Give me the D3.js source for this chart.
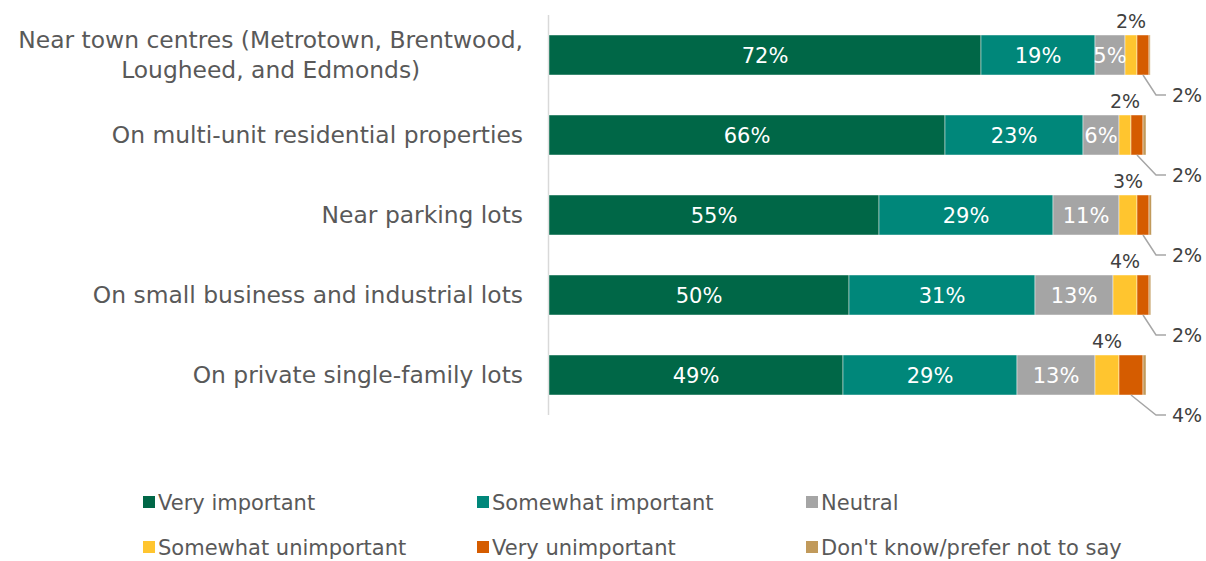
<!DOCTYPE html>
<html>
<head>
<meta charset="utf-8">
<script src="https://cdn.jsdelivr.net/npm/d3@7"></script>
<style>
  html, body { margin: 0; padding: 0; background: #fff; }
  svg { display: block; font-family: "DejaVu Sans", sans-serif; }
</style>
</head>
<body>
<svg id="chart" width="1206" height="561"></svg>
<script>
// Survey categories (top to bottom)
const categories = [
  ["Near town centres (Metrotown, Brentwood,", "Lougheed, and Edmonds)"],
  ["On multi-unit residential properties"],
  ["Near parking lots"],
  ["On small business and industrial lots"],
  ["On private single-family lots"]
];

const seriesNames = [
  "Very important",
  "Somewhat important",
  "Neutral",
  "Somewhat unimportant",
  "Very unimportant",
  "Don't know/prefer not to say"
];

// Percent of respondents per category, one array per response
const veryImportant       = [72, 66, 55, 50, 49];
const somewhatImportant   = [19, 23, 29, 31, 29];
const neutral             = [5, 6, 11, 13, 13];
const somewhatUnimportant = [2, 2, 3, 4, 4];
const veryUnimportant     = [2, 2, 2, 2, 4];
const dontKnow            = [0.2, 0.5, 0.4, 0.3, 0.5];

const colors = ["#006747", "#00877a", "#a5a5a5", "#ffc52f", "#d55c00", "#c19a5b"];

const seriesValues = [veryImportant, somewhatImportant, neutral, somewhatUnimportant, veryUnimportant, dontKnow];

const rows = categories.map((c, i) => {
  const r = { key: i };
  seriesNames.forEach((s, j) => { r[s] = seriesValues[j][i]; });
  return r;
});

const svg = d3.select("#chart");

const x = d3.scaleLinear().domain([0, 100]).range([549, 1149]);
const y = d3.scaleBand().domain(d3.range(categories.length)).range([15, 415]).paddingInner(0.5).paddingOuter(0.25);

const stack = d3.stack().keys(seriesNames);
const layers = stack(rows);

// vertical category axis line
svg.append("line")
  .attr("x1", 548.5).attr("x2", 548.5)
  .attr("y1", 15).attr("y2", 415)
  .attr("stroke", "#d9d9d9").attr("stroke-width", 1.5);

// stacked segments
const g = svg.append("g");
layers.forEach((layer, li) => {
  g.selectAll(null)
    .data(layer)
    .enter().append("rect")
    .attr("x", d => x(d[0]))
    .attr("y", (d, i) => y(i))
    .attr("width", d => Math.max(0, x(d[1]) - x(d[0])))
    .attr("height", y.bandwidth())
    .attr("fill", colors[li])
    .attr("stroke", "#ffffff")
    .attr("stroke-opacity", 0.6)
    .attr("stroke-width", 0.75);
});

// in-bar labels for the first three series
layers.slice(0, 3).forEach(layer => {
  g.selectAll(null)
    .data(layer)
    .enter().append("text")
    .attr("x", d => (x(d[0]) + x(d[1])) / 2)
    .attr("y", (d, i) => y(i) + y.bandwidth() / 2)
    .attr("dy", "0.36em")
    .attr("text-anchor", "middle")
    .attr("fill", "#ffffff")
    .attr("font-size", 21)
    .text(d => (d[1] - d[0]) + "%");
});

// labels above the "Somewhat unimportant" segments
g.selectAll(null)
  .data(layers[3])
  .enter().append("text")
  .attr("x", d => (x(d[0]) + x(d[1])) / 2)
  .attr("y", (d, i) => y(i) - 7)
  .attr("text-anchor", "middle")
  .attr("fill", "#404040")
  .attr("font-size", 19)
  .text(d => (d[1] - d[0]) + "%");

// leader-line labels below the "Very unimportant" segments
const labelX = 1172;
layers[4].forEach((d, i) => {
  const sx = (x(d[0]) + x(d[1])) / 2;
  const sy = y(i) + y.bandwidth();
  const ly = sy + 20;
  svg.append("polyline")
    .attr("points", [[sx, sy], [labelX - 16, ly], [labelX - 6, ly]].map(p => p.join(",")).join(" "))
    .attr("fill", "none")
    .attr("stroke", "#a6a6a6")
    .attr("stroke-width", 1.5);
  svg.append("text")
    .attr("x", labelX)
    .attr("y", ly)
    .attr("dy", "0.36em")
    .attr("fill", "#404040")
    .attr("font-size", 19)
    .text((d[1] - d[0]) + "%");
});

// category labels: right-aligned block, lines centred within it
categories.forEach((lines, i) => {
  const cy = y(i) + y.bandwidth() / 2;
  const lh = 30;
  const t = svg.append("text")
    .attr("text-anchor", "middle")
    .attr("fill", "#595959")
    .attr("font-size", 23.4);
  const spans = lines.map((ln, k) => t.append("tspan")
      .attr("y", cy + (k - (lines.length - 1) / 2) * lh)
      .attr("dy", "0.36em")
      .text(ln));
  const w = d3.max(spans, s => s.node().getComputedTextLength());
  spans.forEach(s => s.attr("x", 523 - w / 2));
});

// legend
const legendCols = [143, 477, 806];
const legendRows = [502, 547];
seriesNames.forEach((s, i) => {
  const lx = legendCols[i % 3];
  const ly = legendRows[Math.floor(i / 3)];
  svg.append("rect")
    .attr("x", lx).attr("y", ly - 6)
    .attr("width", 12).attr("height", 12)
    .attr("fill", colors[i]);
  svg.append("text")
    .attr("x", lx + 15)
    .attr("y", ly)
    .attr("dy", "0.36em")
    .attr("fill", "#595959")
    .attr("font-size", 21)
    .text(s);
});
</script>
</body>
</html>
